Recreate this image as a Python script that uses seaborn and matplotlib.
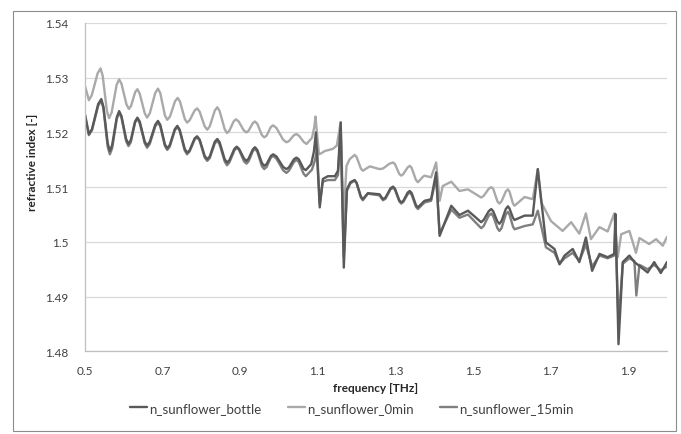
import matplotlib
matplotlib.use("Agg")
import matplotlib.pyplot as plt
import seaborn as sns
import pandas as pd
from matplotlib.patches import Rectangle
from matplotlib.lines import Line2D

# ---------------- data ----------------
freq_0min = [0.500, 0.510, 0.5175, 0.5325, 0.540, 0.5455, 0.5565, 0.562, 0.5685, 0.5815,
             0.588, 0.594, 0.607, 0.613, 0.6185, 0.6295, 0.635, 0.641, 0.654, 0.660,
             0.667, 0.681, 0.688, 0.694, 0.706, 0.712, 0.719, 0.732, 0.739, 0.745,
             0.757, 0.763, 0.7695, 0.7825, 0.789, 0.7955, 0.8085, 0.815, 0.8215, 0.8345,
             0.841, 0.847, 0.860, 0.866, 0.872, 0.883, 0.889, 0.896, 0.909, 0.916,
             0.9215, 0.9325, 0.938, 0.944, 0.956, 0.962, 0.968, 0.979, 0.985, 0.9935,
             1.0105, 1.019, 1.0255, 1.0385, 1.045, 1.0515, 1.0645, 1.071, 1.085, 1.091,
             1.094, 1.103, 1.109, 1.118, 1.139, 1.149, 1.159, 1.166, 1.174, 1.182,
             1.195, 1.200, 1.211, 1.216, 1.234, 1.259, 1.268, 1.285, 1.294, 1.299,
             1.310, 1.315, 1.3205, 1.3315, 1.337, 1.342, 1.353, 1.358, 1.362, 1.371,
             1.375, 1.392, 1.405, 1.414, 1.422, 1.444, 1.465, 1.487, 1.521, 1.5275,
             1.5405, 1.547, 1.552, 1.563, 1.568, 1.5735, 1.5845, 1.590, 1.594, 1.603,
             1.607, 1.633, 1.654, 1.667, 1.676, 1.701, 1.731, 1.753, 1.774, 1.791,
             1.804, 1.826, 1.847, 1.864, 1.873, 1.882, 1.903, 1.920, 1.929, 1.954,
             1.972, 1.989, 2.000]
n_0min = [1.5285, 1.5259, 1.5268, 1.5308, 1.5317, 1.5304, 1.5239, 1.5226, 1.5236, 1.5287,
          1.5297, 1.5289, 1.5251, 1.5243, 1.5248, 1.5274, 1.5279, 1.5271, 1.5235, 1.5227,
          1.5235, 1.5272, 1.5280, 1.5272, 1.5231, 1.5223, 1.5229, 1.5257, 1.5263, 1.5256,
          1.5225, 1.5218, 1.5222, 1.5240, 1.5244, 1.5238, 1.5211, 1.5205, 1.5211, 1.5240,
          1.5246, 1.5239, 1.5206, 1.5199, 1.5203, 1.5220, 1.5224, 1.5220, 1.5204, 1.5200,
          1.5203, 1.5217, 1.5220, 1.5216, 1.5195, 1.5191, 1.5194, 1.5210, 1.5213, 1.5208,
          1.5187, 1.5182, 1.5184, 1.5195, 1.5197, 1.5194, 1.5182, 1.5179, 1.5190, 1.5210,
          1.5229, 1.5160, 1.5162, 1.5166, 1.5170, 1.5176, 1.5219, 1.5040, 1.5139, 1.5151,
          1.5159, 1.5155, 1.5134, 1.5130, 1.5138, 1.5133, 1.5134, 1.5143, 1.5145, 1.5142,
          1.5124, 1.5121, 1.5124, 1.5136, 1.5139, 1.5135, 1.5113, 1.5109, 1.5112, 1.5119,
          1.5121, 1.5118, 1.5145, 1.5075, 1.5102, 1.5110, 1.5093, 1.5096, 1.5081, 1.5084,
          1.5097, 1.5100, 1.5097, 1.5074, 1.5070, 1.5074, 1.5092, 1.5096, 1.5092, 1.5070,
          1.5066, 1.5082, 1.5078, 1.5133, 1.5072, 1.5038, 1.5020, 1.5036, 1.5015, 1.5052,
          1.5005, 1.5027, 1.5019, 1.5052, 1.4972, 1.5014, 1.5020, 1.4980, 1.5007, 1.4996,
          1.5005, 1.4993, 1.5009]

freq_bottle = [0.500, 0.510, 0.518, 0.534, 0.542, 0.5475, 0.5585, 0.564, 0.570, 0.582,
               0.588, 0.594, 0.606, 0.612, 0.618, 0.629, 0.635, 0.641, 0.654, 0.660,
               0.667, 0.681, 0.688, 0.694, 0.706, 0.712, 0.7185, 0.7315, 0.738, 0.744,
               0.757, 0.763, 0.7695, 0.7825, 0.789, 0.7955, 0.8085, 0.815, 0.8215, 0.8345,
               0.841, 0.847, 0.860, 0.866, 0.872, 0.885, 0.891, 0.897, 0.910, 0.916,
               0.9215, 0.9325, 0.938, 0.944, 0.956, 0.962, 0.968, 0.979, 0.985, 0.9935,
               1.0105, 1.019, 1.0255, 1.0385, 1.045, 1.051, 1.063, 1.069, 1.083, 1.090,
               1.095, 1.105, 1.113, 1.126, 1.144, 1.152, 1.159, 1.167, 1.175, 1.184,
               1.195, 1.200, 1.211, 1.216, 1.229, 1.259, 1.268, 1.2745, 1.2875, 1.294,
               1.299, 1.310, 1.315, 1.3205, 1.3315, 1.337, 1.342, 1.353, 1.358, 1.375,
               1.392, 1.405, 1.414, 1.444, 1.465, 1.487, 1.521, 1.5275, 1.5405, 1.547,
               1.552, 1.563, 1.568, 1.5735, 1.5845, 1.590, 1.594, 1.603, 1.607, 1.633,
               1.654, 1.667, 1.688, 1.710, 1.723, 1.736, 1.757, 1.774, 1.791, 1.807,
               1.826, 1.847, 1.864, 1.867, 1.875, 1.886, 1.903, 1.916, 1.929, 1.950,
               1.967, 1.984, 2.000]
n_bottle = [1.5233, 1.5197, 1.5206, 1.5252, 1.5261, 1.5247, 1.5180, 1.5166, 1.5177, 1.5228,
            1.5239, 1.5230, 1.5188, 1.5179, 1.5186, 1.5220, 1.5227, 1.5220, 1.5183, 1.5176,
            1.5183, 1.5214, 1.5221, 1.5214, 1.5178, 1.5171, 1.5177, 1.5206, 1.5212, 1.5205,
            1.5170, 1.5163, 1.5167, 1.5189, 1.5193, 1.5187, 1.5157, 1.5151, 1.5156, 1.5183,
            1.5188, 1.5182, 1.5151, 1.5145, 1.5149, 1.5170, 1.5174, 1.5170, 1.5152, 1.5148,
            1.5152, 1.5169, 1.5173, 1.5168, 1.5144, 1.5139, 1.5142, 1.5157, 1.5160, 1.5156,
            1.5137, 1.5133, 1.5136, 1.5151, 1.5154, 1.5151, 1.5134, 1.5131, 1.5142, 1.5165,
            1.5200, 1.5063, 1.5115, 1.5120, 1.5120, 1.5130, 1.5218, 1.4953, 1.5096, 1.5109,
            1.5113, 1.5108, 1.5083, 1.5078, 1.5089, 1.5087, 1.5078, 1.5081, 1.5098, 1.5101,
            1.5097, 1.5076, 1.5072, 1.5075, 1.5090, 1.5093, 1.5089, 1.5067, 1.5063, 1.5075,
            1.5078, 1.5127, 1.5011, 1.5066, 1.5049, 1.5057, 1.5036, 1.5040, 1.5056, 1.5060,
            1.5056, 1.5037, 1.5033, 1.5038, 1.5060, 1.5065, 1.5061, 1.5044, 1.5040, 1.5048,
            1.5048, 1.5133, 1.4999, 1.4987, 1.4959, 1.4975, 1.4987, 1.4963, 1.5008, 1.4947,
            1.4978, 1.4972, 1.4978, 1.5051, 1.4813, 1.4963, 1.4975, 1.4963, 1.4956, 1.4944,
            1.4963, 1.4943, 1.4963]

freq_15min = [0.500, 0.510, 0.518, 0.534, 0.542, 0.5475, 0.5585, 0.564, 0.570, 0.582,
              0.588, 0.594, 0.606, 0.612, 0.618, 0.629, 0.635, 0.641, 0.654, 0.660,
              0.667, 0.681, 0.688, 0.694, 0.706, 0.712, 0.7185, 0.7315, 0.738, 0.744,
              0.757, 0.763, 0.7695, 0.7825, 0.789, 0.7955, 0.8085, 0.815, 0.8215, 0.8345,
              0.841, 0.847, 0.860, 0.866, 0.872, 0.885, 0.891, 0.897, 0.910, 0.916,
              0.9215, 0.9325, 0.938, 0.944, 0.956, 0.962, 0.968, 0.979, 0.985, 0.9935,
              1.0105, 1.019, 1.0255, 1.0385, 1.045, 1.051, 1.063, 1.069, 1.085, 1.093,
              1.098, 1.105, 1.113, 1.126, 1.144, 1.152, 1.159, 1.167, 1.175, 1.184,
              1.195, 1.200, 1.211, 1.216, 1.229, 1.259, 1.268, 1.2745, 1.2875, 1.294,
              1.299, 1.310, 1.315, 1.3205, 1.3315, 1.337, 1.342, 1.353, 1.358, 1.375,
              1.392, 1.405, 1.414, 1.444, 1.465, 1.487, 1.521, 1.5275, 1.5405, 1.547,
              1.552, 1.563, 1.568, 1.5735, 1.5845, 1.590, 1.594, 1.603, 1.607, 1.633,
              1.654, 1.667, 1.688, 1.710, 1.723, 1.736, 1.757, 1.774, 1.791, 1.807,
              1.826, 1.847, 1.864, 1.867, 1.875, 1.886, 1.903, 1.916, 1.921, 1.929,
              1.950, 1.967, 1.984, 2.000]
n_15min = [1.5230, 1.5195, 1.5204, 1.5249, 1.5258, 1.5244, 1.5174, 1.5160, 1.5171, 1.5225,
           1.5236, 1.5227, 1.5184, 1.5175, 1.5182, 1.5218, 1.5225, 1.5217, 1.5180, 1.5172,
           1.5179, 1.5211, 1.5218, 1.5211, 1.5175, 1.5168, 1.5174, 1.5204, 1.5210, 1.5203,
           1.5167, 1.5160, 1.5165, 1.5187, 1.5191, 1.5185, 1.5154, 1.5148, 1.5153, 1.5180,
           1.5185, 1.5178, 1.5147, 1.5140, 1.5145, 1.5167, 1.5172, 1.5168, 1.5147, 1.5143,
           1.5147, 1.5166, 1.5170, 1.5165, 1.5138, 1.5133, 1.5137, 1.5154, 1.5157, 1.5152,
           1.5131, 1.5126, 1.5130, 1.5146, 1.5150, 1.5146, 1.5125, 1.5120, 1.5132, 1.5150,
           1.5170, 1.5070, 1.5110, 1.5113, 1.5113, 1.5122, 1.5200, 1.4972, 1.5093, 1.5107,
           1.5112, 1.5107, 1.5081, 1.5076, 1.5088, 1.5085, 1.5076, 1.5079, 1.5096, 1.5099,
           1.5095, 1.5074, 1.5070, 1.5073, 1.5087, 1.5090, 1.5086, 1.5064, 1.5060, 1.5072,
           1.5075, 1.5118, 1.5015, 1.5059, 1.5044, 1.5050, 1.5025, 1.5029, 1.5048, 1.5052,
           1.5047, 1.5025, 1.5020, 1.5025, 1.5050, 1.5055, 1.5050, 1.5028, 1.5023, 1.5029,
           1.5032, 1.5057, 1.4990, 1.4980, 1.4960, 1.4970, 1.4980, 1.4965, 1.4995, 1.4955,
           1.4975, 1.4970, 1.4975, 1.5030, 1.4850, 1.4960, 1.4970, 1.4965, 1.4902, 1.4958,
           1.4950, 1.4958, 1.4948, 1.4955]

series_names = ["n_sunflower_bottle", "n_sunflower_0min", "n_sunflower_15min"]
series_colors = ["#595959", "#a9a9a9", "#7f7f7f"]
x_ticks = [0.5, 0.7, 0.9, 1.1, 1.3, 1.5, 1.7, 1.9]
x_ticklabels = ["0.5", "0.7", "0.9", "1.1", "1.3", "1.5", "1.7", "1.9"]
y_ticks = [1.48, 1.49, 1.50, 1.51, 1.52, 1.53, 1.54]
y_ticklabels = ["1.48", "1.49", "1.5", "1.51", "1.52", "1.53", "1.54"]

# ---------------- style ----------------
sns.set_theme(style="white")
plt.rcParams["font.family"] = ["Lato", "DejaVu Sans"]

fig = plt.figure(figsize=(6.81, 4.35), dpi=100)
ax = fig.add_axes([85 / 681, 1 - 352.3 / 435, (667 - 85) / 681, (352.3 - 24) / 435])

frames = {
    "n_sunflower_bottle": (freq_bottle, n_bottle),
    "n_sunflower_0min": (freq_0min, n_0min),
    "n_sunflower_15min": (freq_15min, n_15min),
}
order_draw = ["n_sunflower_0min", "n_sunflower_15min", "n_sunflower_bottle"]
for name in order_draw:
    fx, fy = frames[name]
    df = pd.DataFrame({"frequency": fx, "n": fy})
    col = series_colors[series_names.index(name)]
    sns.lineplot(data=df, x="frequency", y="n", ax=ax, color=col, linewidth=1.7,
                 estimator=None, sort=False, legend=False,
                 solid_joinstyle="round", solid_capstyle="round")

ax.set_xlim(0.5, 2.0)
ax.set_ylim(1.48, 1.54)
ax.set_xticks(x_ticks)
ax.set_xticklabels(x_ticklabels)
ax.set_yticks(y_ticks)
ax.set_yticklabels(y_ticklabels)
ax.yaxis.grid(True, color="#d9d9d9", linewidth=0.9)
ax.xaxis.grid(False)
ax.set_axisbelow(True)
for s in ["top", "right"]:
    ax.spines[s].set_visible(False)
for s in ["left", "bottom"]:
    ax.spines[s].set_color("#bfbfbf")
    ax.spines[s].set_linewidth(0.9)
ax.tick_params(axis="both", which="both", direction="out", length=4, width=0.8,
               color="#bfbfbf", labelsize=8.5, labelcolor="#404040")
ax.tick_params(axis="y", pad=8)
ax.tick_params(axis="x", pad=6)
ax.set_xlabel("frequency [THz]", fontsize=8.5, fontweight="bold", color="#262626", labelpad=4)
ax.set_ylabel("refractive index [-]", fontsize=8.5, fontweight="bold", color="#262626")
ax.yaxis.set_label_coords(-0.081, 0.58)

handles = [Line2D([0], [0], color=c, linewidth=1.7) for c in series_colors]
fig.legend(handles, series_names, loc="center", bbox_to_anchor=(352 / 681, 1 - 409 / 435),
           ncol=3, frameon=False, fontsize=9.5, handlelength=1.3, handletextpad=0.15,
           columnspacing=2.0, labelcolor="#404040")

fig.patches.append(Rectangle((13 / 681, 1 - 432 / 435), (676 - 13) / 681, (432 - 12) / 435,
                             transform=fig.transFigure, fill=False, edgecolor="#8c8c8c",
                             linewidth=0.8))

fig.savefig("out.png", dpi=100)
